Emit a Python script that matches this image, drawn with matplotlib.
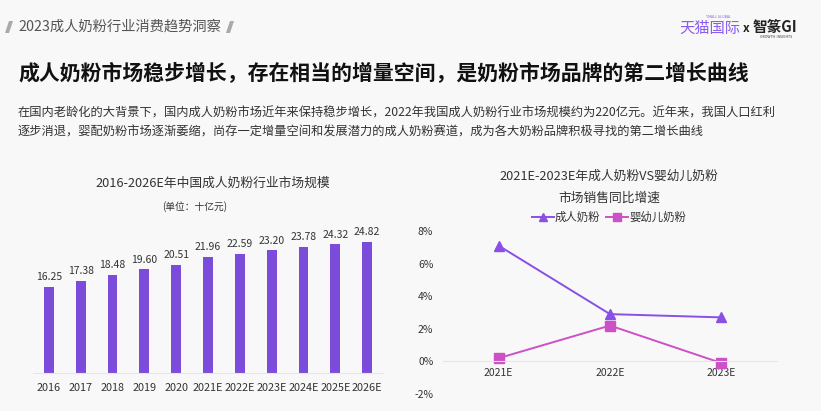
import matplotlib
matplotlib.use("Agg")
import matplotlib.pyplot as plt
from matplotlib.patches import Polygon
from matplotlib.lines import Line2D

plt.rcParams['font.family'] = ['Noto Sans CJK SC', 'DejaVu Sans']

# ---- data ----
years = ["2016", "2017", "2018", "2019", "2020", "2021E", "2022E", "2023E", "2024E", "2025E", "2026E"]
market_size = [16.25, 17.38, 18.48, 19.60, 20.51, 21.96, 22.59, 23.20, 23.78, 24.32, 24.82]

growth_years = ["2021E", "2022E", "2023E"]
adult_growth = [7.1, 2.9, 2.7]
infant_growth = [0.2, 2.2, -0.1]
growth_ticks = [-2, 0, 2, 4, 6, 8]

BG = "#f8f8f8"
BAR = "#7b4bd9"
ADULT = "#8a4fe6"
INFANT = "#cc50c6"
W, H = 821, 411

fig = plt.figure(figsize=(W / 100, H / 100), dpi=100, facecolor=BG)

def fx(x):
    return x / W

def fy(y):
    return 1 - y / H

# ---- header ----
for x0 in (5, 226):
    poly = Polygon([[fx(x0 + 4), fy(21)], [fx(x0 + 8), fy(21)], [fx(x0 + 4), fy(33)], [fx(x0), fy(33)]],
                   closed=True, transform=fig.transFigure, facecolor="#aaaaaa", edgecolor="none")
    fig.patches.append(poly)
fig.text(fx(18), fy(27), "2023成人奶粉行业消费趋势洞察", fontsize=10.3, color="#555555",
         ha="left", va="center")
fig.text(fx(710), fy(28), "天猫国际", fontsize=11, color="#8a5cf0", ha="center", va="center")
fig.text(fx(718), fy(17), "TMALL GLOBAL", fontsize=2.5, color="#8a5cf0", ha="center", va="center")
fig.text(fx(746), fy(28), "x", fontsize=8.5, color="#222222", ha="center", va="center", weight="bold")
fig.text(fx(775), fy(27), "智篆GI", fontsize=10.5, color="#222222", ha="center", va="center", weight="bold")
fig.text(fx(776), fy(37), "GROWTH  INSIGHTS", fontsize=2.5, color="#333333", ha="center", va="center")

fig.text(fx(18), fy(73), "成人奶粉市场稳步增长，存在相当的增量空间，是奶粉市场品牌的第二增长曲线",
         fontsize=15, color="#111111", ha="left", va="center", weight="bold")
fig.text(fx(18), fy(113),
         "在国内老龄化的大背景下，国内成人奶粉市场近年来保持稳步增长，2022年我国成人奶粉行业市场规模约为220亿元。近年来，我国人口红利",
         fontsize=8.8, color="#333333", ha="left", va="center")
fig.text(fx(18), fy(132),
         "逐步消退，婴配奶粉市场逐渐萎缩，尚存一定增量空间和发展潜力的成人奶粉赛道，成为各大奶粉品牌积极寻找的第二增长曲线",
         fontsize=8.8, color="#333333", ha="left", va="center")

# ---- left chart: bars ----
ax1 = fig.add_axes([fx(33), fy(373), fx(350), (373 - 225) / H])
ax1.set_facecolor(BG)
xs = list(range(len(years)))
ax1.bar(xs, market_size, width=0.31, color=BAR, edgecolor="none")
for x, v in zip(xs, market_size):
    ax1.annotate(f"{v:.2f}", (x, v), xytext=(0, 3.5), textcoords="offset points",
                 ha="center", va="bottom", fontsize=7.5, color="#333333")
ax1.set_xlim(-0.5, len(years) - 0.5)
ax1.set_ylim(0, 28)
ax1.set_xticks(xs)
ax1.set_xticklabels(years)
ax1.tick_params(axis="x", length=0, pad=7, labelsize=7.8, labelcolor="#333333")
ax1.set_yticks([])
for s in ("top", "right", "left"):
    ax1.spines[s].set_visible(False)
ax1.spines["bottom"].set_color("#e6e6e6")
fig.text(fx(213), fy(183), "2016-2026E年中国成人奶粉行业市场规模", fontsize=9.2, color="#333333",
         ha="center", va="center")
fig.text(fx(195), fy(207), "(单位：十亿元)", fontsize=7, color="#333333", ha="center", va="center")

# ---- right chart: lines ----
ax2 = fig.add_axes([fx(443), fy(394), fx(334), (394 - 231) / H])
ax2.set_facecolor(BG)
for s in ("top", "right", "left"):
    ax2.spines[s].set_visible(False)
ax2.spines["bottom"].set_position(("data", 0))
ax2.spines["bottom"].set_color("#e6e6e6")
gx = list(range(len(growth_years)))
ax2.plot(gx, adult_growth, color=ADULT, lw=1.4, marker="^", ms=6.5, label="成人奶粉")
ax2.plot(gx, infant_growth, color=INFANT, lw=1.4, marker="s", ms=6.5, label="婴幼儿奶粉")
ax2.set_xlim(-0.5, len(growth_years) - 0.5)
ax2.set_ylim(-2, 8)
ax2.set_yticks(growth_ticks)
ax2.set_yticklabels([f"{t}%" for t in growth_ticks])
ax2.set_xticks(gx)
ax2.set_xticklabels(growth_years)
ax2.tick_params(axis="both", length=0, labelsize=7.5, labelcolor="#333333")
ax2.tick_params(axis="y", pad=7)
ax2.tick_params(axis="x", pad=5)
fig.text(fx(609), fy(176), "2021E-2023E年成人奶粉VS婴幼儿奶粉", fontsize=9.2, color="#333333",
         ha="center", va="center")
fig.text(fx(609), fy(198), "市场销售同比增速", fontsize=9.2, color="#333333", ha="center", va="center")
handles = [Line2D([], [], color=ADULT, lw=1.4, marker="^", ms=5.5),
           Line2D([], [], color=INFANT, lw=1.4, marker="s", ms=5.5)]
fig.legend(handles, ["成人奶粉", "婴幼儿奶粉"], loc="center", bbox_to_anchor=(fx(609), fy(217)),
           ncol=2, frameon=False, fontsize=8.2, handlelength=1.9, handletextpad=0.1,
           columnspacing=0.5, labelcolor="#333333")

fig.savefig("out.png", dpi=100, facecolor=BG)
